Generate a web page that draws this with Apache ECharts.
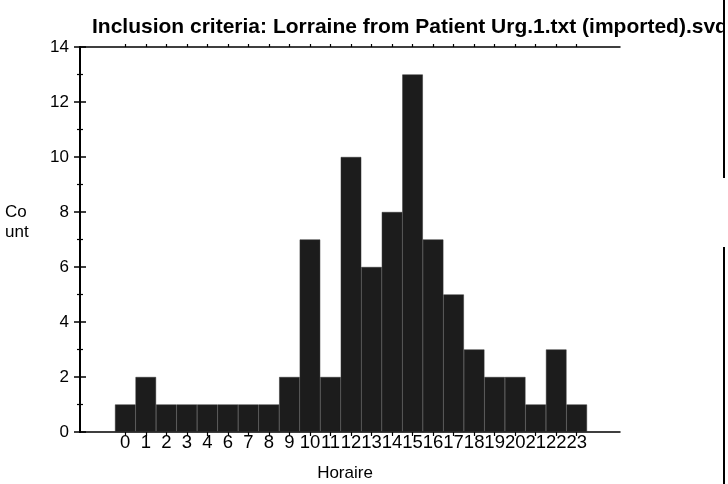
<!DOCTYPE html>
<html>
<head>
<meta charset="utf-8">
<script src="https://cdn.jsdelivr.net/npm/echarts@6/dist/echarts.min.js"></script>
<style>html,body{margin:0;padding:0;background:#fff}#c{width:728px;height:484px}</style>
</head>
<body>
<div id="c"></div>
<script>
var hours = ['0','1','2','3','4','6','7','8','9','10','11','12','13','14','15','16','17','18','19','20','21','22','23'];
var counts = [1,2,1,1,1,1,1,1,2,7,2,10,6,8,13,7,5,3,2,2,1,3,1];
var yTicks = {min: 0, max: 14, interval: 2};
var titleText = 'Inclusion criteria: Lorraine from Patient Urg.1.txt (imported).svd';
var xName = 'Horaire';
var yName = 'Co\nunt';

var FONT = '"Liberation Sans", Arial, sans-serif';
var chart = echarts.init(document.getElementById('c'), null, {renderer: 'canvas'});
chart.setOption({
  animation: false,
  backgroundColor: '#fff',
  title: {
    text: titleText, left: 87, top: 12,
    textStyle: {fontFamily: FONT, fontSize: 21, fontWeight: 'bold', color: '#000'}
  },
  grid: [
    {left: 115, right: 141, top: 47, bottom: 52, outerBoundsMode: 'none', containLabel: false},
    {left: 80, right: 108, top: 47, bottom: 52, outerBoundsMode: 'none', containLabel: false}
  ],
  xAxis: [
    {
      type: 'category', gridIndex: 0, data: hours, position: 'bottom',
      axisLine: {show: false},
      axisTick: {show: true, alignWithLabel: true, length: 4, lineStyle: {color: '#000', width: 1.2}},
      axisLabel: {interval: 0, margin: 1, fontFamily: FONT, fontSize: 18.5, color: '#000'},
      name: xName, nameLocation: 'middle', nameGap: 33,
      nameTextStyle: {fontFamily: FONT, fontSize: 17, color: '#000', padding: [0, 12, 0, 0]}
    },
    {
      type: 'category', gridIndex: 0, data: hours, position: 'top',
      axisLine: {show: false},
      axisTick: {show: true, alignWithLabel: true, length: 3, lineStyle: {color: '#000', width: 1.2}},
      axisLabel: {show: false}
    },
    {
      type: 'value', gridIndex: 1, min: 0, max: 1, position: 'bottom',
      axisLine: {show: true, onZero: false, lineStyle: {color: '#000', width: 1.5}},
      axisTick: {show: false}, axisLabel: {show: false}, splitLine: {show: false}
    },
    {
      type: 'value', gridIndex: 1, min: 0, max: 1, position: 'top',
      axisLine: {show: true, onZero: false, lineStyle: {color: '#000', width: 1.5}},
      axisTick: {show: false}, axisLabel: {show: false}, splitLine: {show: false}
    }
  ],
  yAxis: [
    {
      type: 'value', gridIndex: 0, min: yTicks.min, max: yTicks.max, interval: yTicks.interval,
      show: false
    },
    {
      type: 'value', gridIndex: 1, min: yTicks.min, max: yTicks.max, interval: yTicks.interval, position: 'left',
      axisLine: {show: true, lineStyle: {color: '#000', width: 2}},
      axisTick: {show: true, length: 6, lineStyle: {color: '#000', width: 1.5}},
      minorTick: {show: true, splitNumber: 2, length: 3, lineStyle: {color: '#000', width: 1.2}},
      axisLabel: {margin: 11, fontFamily: FONT, fontSize: 17, color: '#000'},
      splitLine: {show: false}
    },
    {
      type: 'value', gridIndex: 1, min: yTicks.min, max: yTicks.max, interval: yTicks.interval, position: 'right',
      axisLine: {show: true, lineStyle: {color: '#000', width: 2}},
      axisTick: {show: true, length: 6, lineStyle: {color: '#000', width: 1.5}},
      minorTick: {show: true, splitNumber: 2, length: 3, lineStyle: {color: '#000', width: 1.2}},
      axisLabel: {show: false},
      splitLine: {show: false}
    }
  ],
  series: [{
    type: 'bar', xAxisIndex: 0, yAxisIndex: 0, data: counts,
    barCategoryGap: '0%',
    itemStyle: {color: '#1c1c1c', borderColor: '#333', borderWidth: 0.5}
  }],
  graphic: [
    {type: 'text', left: 5, top: 202, style: {text: yName, font: '17px ' + FONT, fill: '#000', lineHeight: 20}},
    {type: 'rect', shape: {x: 723, y: 0, width: 5, height: 178}, style: {fill: '#fff'}, z: 99},
    {type: 'line', shape: {x1: 724, y1: 0, x2: 724, y2: 178}, style: {stroke: '#000', lineWidth: 2}, z: 100},
    {type: 'line', shape: {x1: 724, y1: 247, x2: 724, y2: 484}, style: {stroke: '#000', lineWidth: 2}, z: 100}
  ]
});
</script>
</body>
</html>
